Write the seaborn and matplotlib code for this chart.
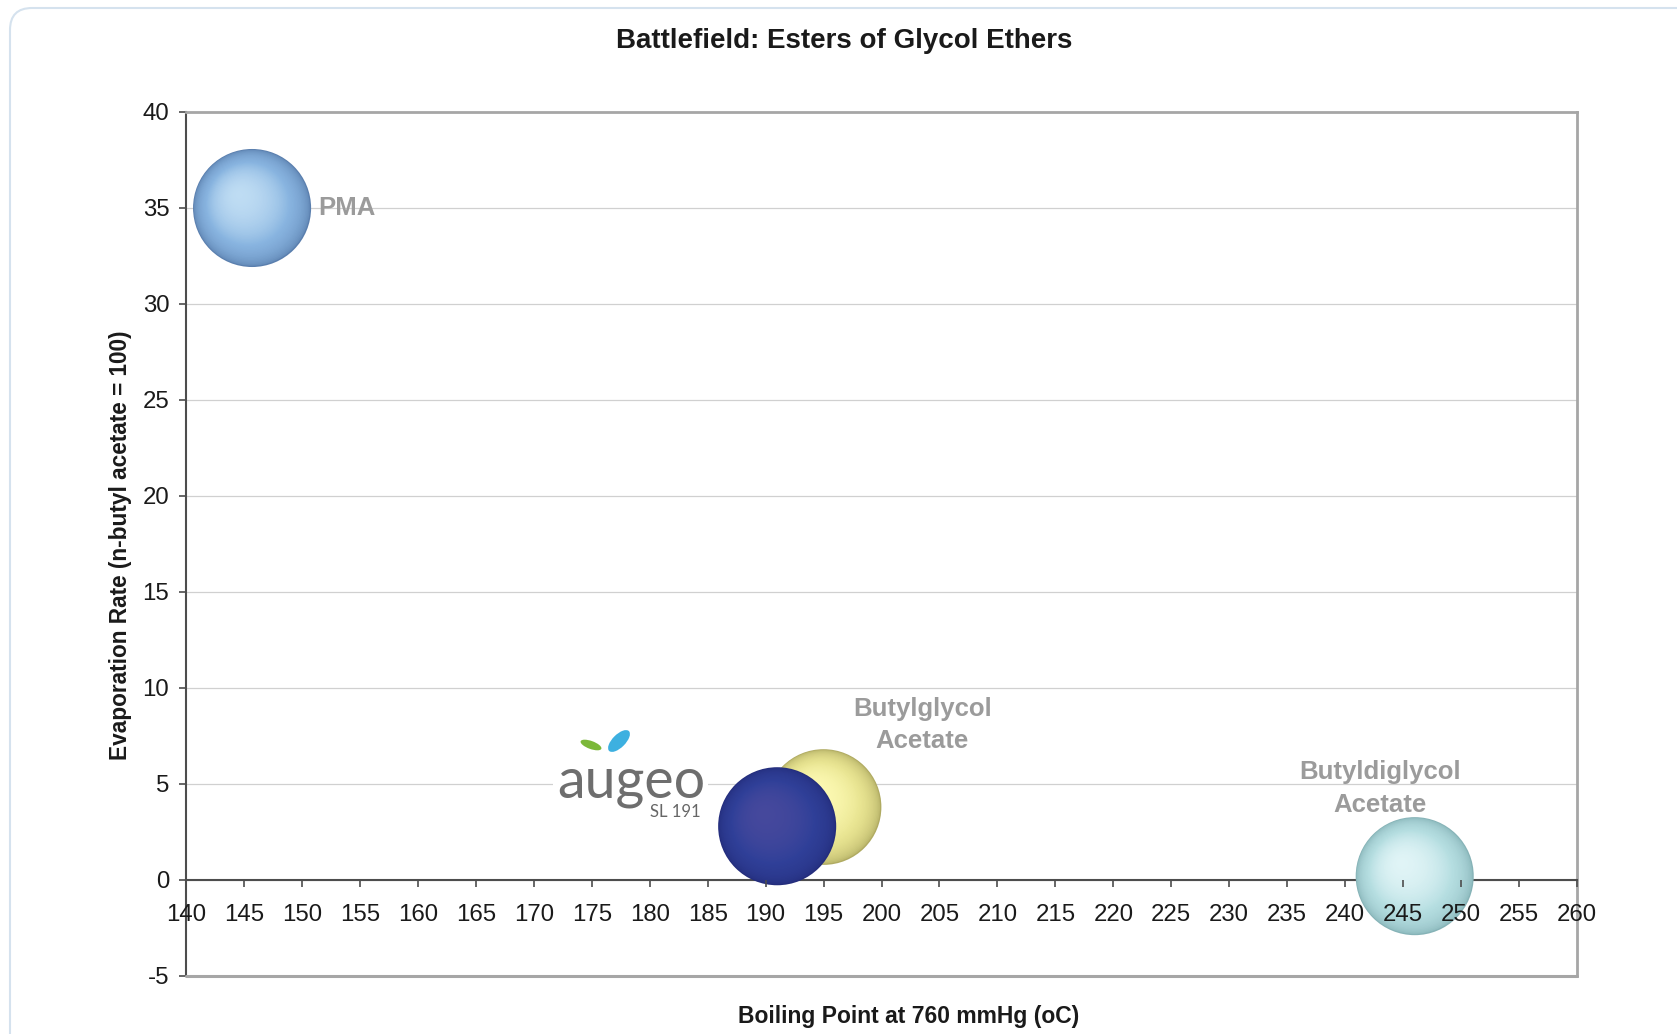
import numpy as np
import pandas as pd
import matplotlib
matplotlib.use("Agg")
import matplotlib.pyplot as plt
import seaborn as sns
from matplotlib import transforms
from matplotlib.patches import FancyBboxPatch, Rectangle, Ellipse
from matplotlib.colors import to_rgb

# ---------------- data ----------------
solvents = ["PMA", "Butylglycol Acetate", "Augeo SL 191", "Butyldiglycol Acetate"]
boiling_point = [145.7, 195, 191, 246]
evaporation_rate = [35.0, 3.8, 2.8, 0.2]
bubble_size = [1.0, 0.98, 1.0, 1.0]
point_labels = ["PMA", "Butylglycol\nAcetate", "", "Butyldiglycol\nAcetate"]
x_ticks = [140, 145, 150, 155, 160, 165, 170, 175, 180, 185, 190, 195, 200,
           205, 210, 215, 220, 225, 230, 235, 240, 245, 250, 255, 260]
y_ticks = [-5, 0, 5, 10, 15, 20, 25, 30, 35, 40]
title = "Battlefield: Esters of Glycol Ethers"
x_label = "Boiling Point at 760 mmHg (oC)"
y_label = "Evaporation Rate (n-butyl acetate = 100)"

# ---------------- styles ----------------
edge_cols = ["#5A7FAE", "#B0AB62", "#242D7C", "#86B3B7"]
mid_cols = ["#88B4E0", "#E9E592", "#2F3F98", "#B5DEE1"]
hi_cols = ["#BEDCF3", "#FDFAB4", "#45489C", "#E0F4F6"]
label_offsets = [(48, 0), (71, 59), (0, 0), (-25, 63)]
label_ha = ["left", "center", "center", "center"]

sns.set_theme(style="white")
plt.rcParams["font.family"] = ["Liberation Sans", "DejaVu Sans"]
plt.rcParams["axes.unicode_minus"] = False

W, H = 1677, 1034
fig = plt.figure(figsize=(W / 100, H / 100), dpi=100)
ax = fig.add_axes([186 / W, 1 - 976 / H, (1577 - 186) / W, (976 - 112) / H])

df = pd.DataFrame({"solvent": solvents, "bp": boiling_point,
                   "er": evaporation_rate, "size": bubble_size})

BASE_D = 85.0  # bubble diameter in points
N = 50
for i, row in df.iterrows():
    z = 3 + i
    d0 = BASE_D * row["size"]
    sns.scatterplot(data=df.iloc[[i]], x="bp", y="er", s=d0 ** 2,
                    color=edge_cols[i], edgecolor="none", ax=ax, zorder=z,
                    legend=False)
    r_pt = d0 / 2
    e, m, h = (np.array(to_rgb(c)) for c in (edge_cols[i], mid_cols[i], hi_cols[i]))
    for k in range(1, N):
        t = k / (N - 1)
        rho = 1 - 0.93 * t
        g = np.sqrt(max(0.0, 1 - rho ** 2))
        if g < 0.7:
            c = e + (m - e) * g / 0.7
        else:
            c = m + (h - m) * (g - 0.7) / 0.3
        off = t * 0.22 * r_pt
        tr = transforms.offset_copy(ax.transData, fig=fig, x=-off, y=off, units="points")
        ax.scatter([row["bp"]], [row["er"]], s=(2 * r_pt * rho) ** 2,
                   color=[np.clip(c, 0, 1)], edgecolors="none", transform=tr,
                   zorder=z + 0.01 * k)
    if point_labels[i]:
        ax.annotate(point_labels[i], (row["bp"], row["er"]),
                    xytext=label_offsets[i], textcoords="offset points",
                    ha=label_ha[i], va="center", fontsize=18.5, fontweight="bold",
                    color="#9B9B9B", linespacing=1.45, zorder=20)

ax.set_xlabel("")
ax.set_ylabel("")
ax.set_xlim(140, 260)
ax.set_ylim(-5, 40)
ax.set_xticks(x_ticks)
ax.set_yticks(y_ticks)

ax.spines["bottom"].set_position(("data", 0))
ax.spines["bottom"].set_color("#4D4D4D")
ax.spines["bottom"].set_linewidth(1.5)
ax.spines["left"].set_color("#4D4D4D")
ax.spines["left"].set_linewidth(1.5)
for sp in ["top", "right"]:
    ax.spines[sp].set_visible(True)
    ax.spines[sp].set_color("#A6A6A6")
    ax.spines[sp].set_linewidth(2)
ax.axhline(-5, color="#A6A6A6", lw=2.2, clip_on=False, zorder=2.6)

ax.tick_params(axis="x", direction="out", bottom=True, length=5, width=1.2,
               color="#4D4D4D", pad=12, labelsize=17.3, labelcolor="#1A1A1A")
ax.tick_params(axis="y", direction="out", left=True, length=5, width=1.2,
               color="#4D4D4D", pad=7, labelsize=17.3, labelcolor="#1A1A1A")
ax.yaxis.grid(True, color="#D0D0D0", lw=0.9)
ax.xaxis.grid(False)
ax.xaxis.set_zorder(10)
ax.yaxis.set_zorder(0.5)

# titles
fig.text(844 / W, 1 - 41 / H, title, ha="center", va="center",
         fontsize=20, fontweight="bold", color="#1A1A1A")
fig.text(909 / W, 1 - 1017 / H, x_label, ha="center", va="center",
         fontsize=16.5, fontweight="bold", color="#1A1A1A")
fig.text(120 / W, 1 - 545 / H, y_label, ha="center", va="center",
         rotation=90, fontsize=16.3, fontweight="bold", color="#1A1A1A")

# rounded frame
frame = FancyBboxPatch((0.10, -1.0), 18, 10.26 + 1.0,
                       boxstyle="round,pad=0,rounding_size=0.22",
                       transform=fig.dpi_scale_trans, facecolor="none",
                       edgecolor="#D5E2EE", lw=1.5, zorder=1)
fig.add_artist(frame)

# augeo logo
def px(x, y):
    return (x / 100, (H - y) / 100)

fig.add_artist(Rectangle(px(553, 822), 1.55, 1.0, transform=fig.dpi_scale_trans,
                         facecolor="white", edgecolor="none", zorder=5))
fig.text(631 / W, 1 - 797 / H, "augeo", ha="center", va="baseline",
         fontsize=40, fontweight="normal", color="#6E6E6E",
         family="Lato", zorder=6)
fig.text(701 / W, 1 - 812 / H, "SL 191", ha="right", va="center",
         fontsize=12, fontweight="normal", color="#666666",
         family="Lato", zorder=6)
fig.add_artist(Ellipse(px(591, 745), 0.22, 0.08, angle=-20,
                       transform=fig.dpi_scale_trans, facecolor="#7CB83A",
                       edgecolor="none", zorder=6))
fig.add_artist(Ellipse(px(619, 741), 0.28, 0.13, angle=45,
                       transform=fig.dpi_scale_trans, facecolor="#3DB0E0",
                       edgecolor="none", zorder=6))

fig.savefig("out.png", dpi=100, facecolor="white")
